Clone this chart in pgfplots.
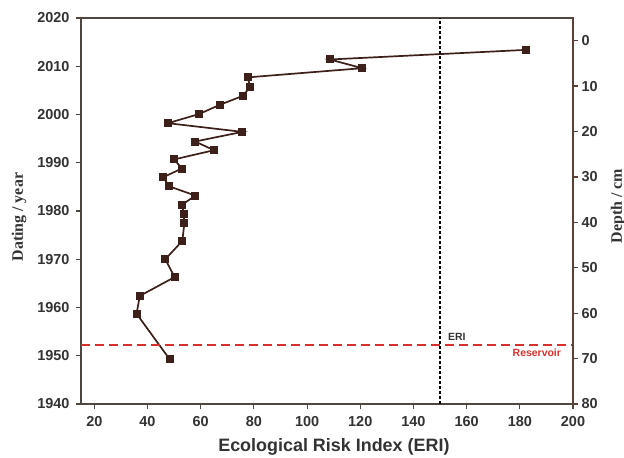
\documentclass[border=0pt]{standalone}
\usepackage{pgfplots}
\pgfplotsset{compat=1.18}
\usepackage{fontspec}
\setmainfont{Liberation Serif}
\setsansfont{Liberation Sans}
\definecolor{markc}{HTML}{3D2019}
\definecolor{axc}{HTML}{4F4640}
\definecolor{rax}{HTML}{5B4038}
\definecolor{redc}{HTML}{D9302C}
\definecolor{tickc}{HTML}{333333}
\pgfplotstableread{
eri year
182.5 2013.4
108.5 2011.4
120.8 2009.6
77.7 2007.7
78.6 2005.8
76.0 2003.9
67.2 2002.0
59.4 2000.1
47.7 1998.2
75.7 1996.4
57.9 1994.4
65.0 1992.6
50.1 1990.7
52.9 1988.8
45.9 1987.0
48.2 1985.1
58.0 1983.2
53.0 1981.3
53.6 1979.4
53.9 1977.6
53.1 1973.8
46.7 1970.0
50.2 1966.3
37.1 1962.4
35.9 1958.7
48.3 1949.3
}\eridata
\begin{document}
\begin{tikzpicture}
\path[use as bounding box] (-81bp,-54bp) rectangle (543bp,404bp);
\begin{axis}[
  scale only axis, width=492bp, height=386bp,
  xmin=15, xmax=200, ymin=1940, ymax=2020,
  xtick={20,40,...,200}, ytick={1940,1950,...,2020},
  xtick pos=bottom, ytick pos=left, tick align=outside,
  major tick length=5bp,
  axis line style={color=axc, line width=1.1bp},
  every tick/.style={color=axc, line width=1.1bp},
  /pgf/number format/assume math mode=true,
  /pgf/number format/1000 sep={},
  tick label style={font=\fontsize{14.5}{16}\selectfont\sffamily\bfseries, text=tickc},
  xticklabel style={yshift=-4bp},
  yticklabel style={xshift=-3bp},
  clip=false,
]
\addplot[color=markc, line width=1.7bp, mark=square*, mark size=3.5bp, mark options={solid, fill=markc, line width=1bp}] table[x=eri, y=year] {\eridata};
\addplot[color=redc, line width=2.2bp, dash pattern=on 9bp off 5bp] coordinates {(15,1952.2) (200,1952.2)};
\addplot[color=black, line width=1.5bp, dash pattern=on 3bp off 2bp] coordinates {(150,1940) (150,2020)};
\node[font=\fontsize{10.5}{12}\selectfont\sffamily\bfseries, text=tickc] at (axis cs:156.3,1953.9) {ERI};
\node[font=\fontsize{10.5}{12}\selectfont\sffamily\bfseries, text=redc] at (axis cs:186.4,1950.6) {Reservoir};
\node[rotate=90, font=\fontsize{16}{18}\selectfont\bfseries, text=tickc] at (axis description cs:-0.126,0.484) {Dating / year};
\node[rotate=90, font=\fontsize{16}{18}\selectfont\bfseries, text=tickc] at (axis description cs:1.0915,0.513) {Depth / cm};
\node[font=\fontsize{18}{20}\selectfont\sffamily\bfseries, text=tickc] at (axis description cs:0.514,-0.111) {Ecological Risk Index (ERI)};
\end{axis}
\begin{axis}[
  scale only axis, width=492bp, height=386bp,
  xmin=15, xmax=200, ymin=-5, ymax=80, y dir=reverse,
  hide x axis, axis y line*=right,
  ytick={0,10,...,80}, tick align=outside,
  major tick length=5bp,
  axis line style={color=rax, line width=1.3bp},
  every tick/.style={color=rax, line width=1.3bp},
  /pgf/number format/assume math mode=true,
  tick label style={font=\fontsize{14.5}{16}\selectfont\sffamily\bfseries, text=tickc},
]
\addplot[draw=none] coordinates {(20,0)};
\end{axis}
\end{tikzpicture}
\end{document}
